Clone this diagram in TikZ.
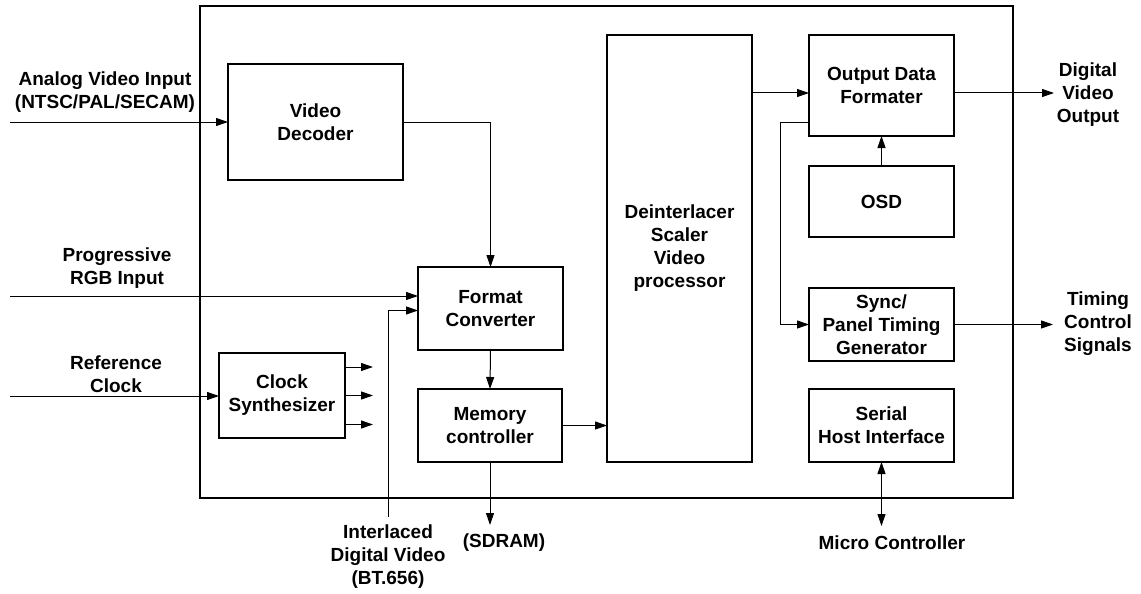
\documentclass[tikz,border=0pt]{standalone}
\usepackage{fontspec}
\setmainfont{Liberation Sans}
\usetikzlibrary{arrows.meta, positioning}

\begin{document}
\begin{tikzpicture}[x=1pt, y=-1pt,
  blk/.style={draw, line width=2pt, align=center, inner sep=0pt, outer sep=0pt,
    font=\bfseries\fontsize{19}{23}\selectfont},
  lbl/.style={align=center, inner sep=0pt, font=\bfseries\fontsize{19}{23}\selectfont},
  sig/.style={line width=1pt, -{Triangle[length=12pt,width=8pt]}},
  sigb/.style={line width=1pt, {Triangle[length=12pt,width=8pt]}-{Triangle[length=12pt,width=8pt]}}]

\useasboundingbox (0,0) rectangle (1141,594);

% chip outline
\draw[line width=2pt] (200,6) rectangle (1013,498);

% left part
\node[blk, minimum width=175pt, minimum height=116pt] (dec) at (315.5,122) {Video\\Decoder};
\node[blk, minimum width=145pt, minimum height=83pt] (fmt) at (490.5,308.5) {Format\\Converter};
\node[blk, minimum width=144pt, minimum height=73pt] (mem) at (490,425.5) {Memory\\controller};
\node[blk, minimum width=126pt, minimum height=85pt] (clk) at (282,395.5) {Clock\\Synthesizer};
\node[blk, minimum width=145pt, minimum height=427pt] (dei) at (679.5,248.5) {Deinterlacer\\Scaler\\Video\\processor};

% right column
\node[blk, minimum width=145pt, minimum height=101pt] (odf) at (881.5,85.5) {Output Data\\Formater};
\node[blk, minimum width=145pt, minimum height=71pt, below=30pt of odf] (osd) {OSD};
\node[blk, minimum width=145pt, minimum height=73pt, below=51pt of osd] (sync) {Sync/\\Panel Timing\\Generator};
\node[blk, minimum width=145pt, minimum height=73pt, below=28pt of sync] (shi) {Serial\\Host Interface};

% outside labels
\node[lbl] (ainlbl) at (105,92) {Analog Video Input\\(NTSC/PAL/SECAM)};
\node[lbl] (rgblbl) at (117,268.5) {Progressive\\RGB Input};
\node[lbl] (reflbl) at (116,374.5) {Reference\\Clock};
\node[lbl] (itllbl) at (388,556.5) {Interlaced\\Digital Video\\(BT.656)};
\node[lbl] (sdramlbl) at (504,543) {(SDRAM)};
\node[lbl] (dvolbl) at (1088,94.5) {Digital\\Video\\Output};
\node[lbl] (tcslbl) at (1098,324) {Timing\\Control\\Signals};
\node[lbl] (mculbl) at (892,543) {Micro Controller};

% free ends
\coordinate (ain) at (10,122);
\coordinate (rgbin) at (10,296);
\coordinate (refin) at (10,396);
\coordinate (itl) at (388,517);
\coordinate (sdram) at (490,525);
\coordinate (dvo) at (1054,93);
\coordinate (tcs) at (1053,324.5);
\coordinate (mcu) at (881.5,526);

% connectors
\draw[sig] (ain) -- (dec);
\draw[sig] (dec.east) -| (fmt.north);
\draw[sig] (rgbin) -- (rgbin -| fmt.west);
\draw[sig] (itl) |- ([yshift=-2pt]fmt.west);
\draw[sig] (refin) -- (refin -| clk.west);
\foreach \dy in {28.5,0,-29}
  \draw[sig] ([yshift=\dy pt]clk.east) -- ++(28,0);
\draw[sig] (fmt.south) -- (mem.north);
\draw[sig] (mem.east) -- (mem.east -| dei.west);
\draw[sig] (mem.south) -- (sdram);
\draw[sig] ([yshift=-7.5pt]odf.west -| dei.east) -- ([yshift=-7.5pt]odf.west);
\draw[sig] ([yshift=-7.5pt]odf.east) -- (dvo);
\draw[sig] ([yshift=-36.5pt]odf.west) -- ++(-29,0) |- (sync.west);
\draw[sig] (osd) -- (odf);
\draw[sig] (sync.east) -- (tcs);
\draw[sigb] (shi.south) -- (mcu);

\end{tikzpicture}
\end{document}
